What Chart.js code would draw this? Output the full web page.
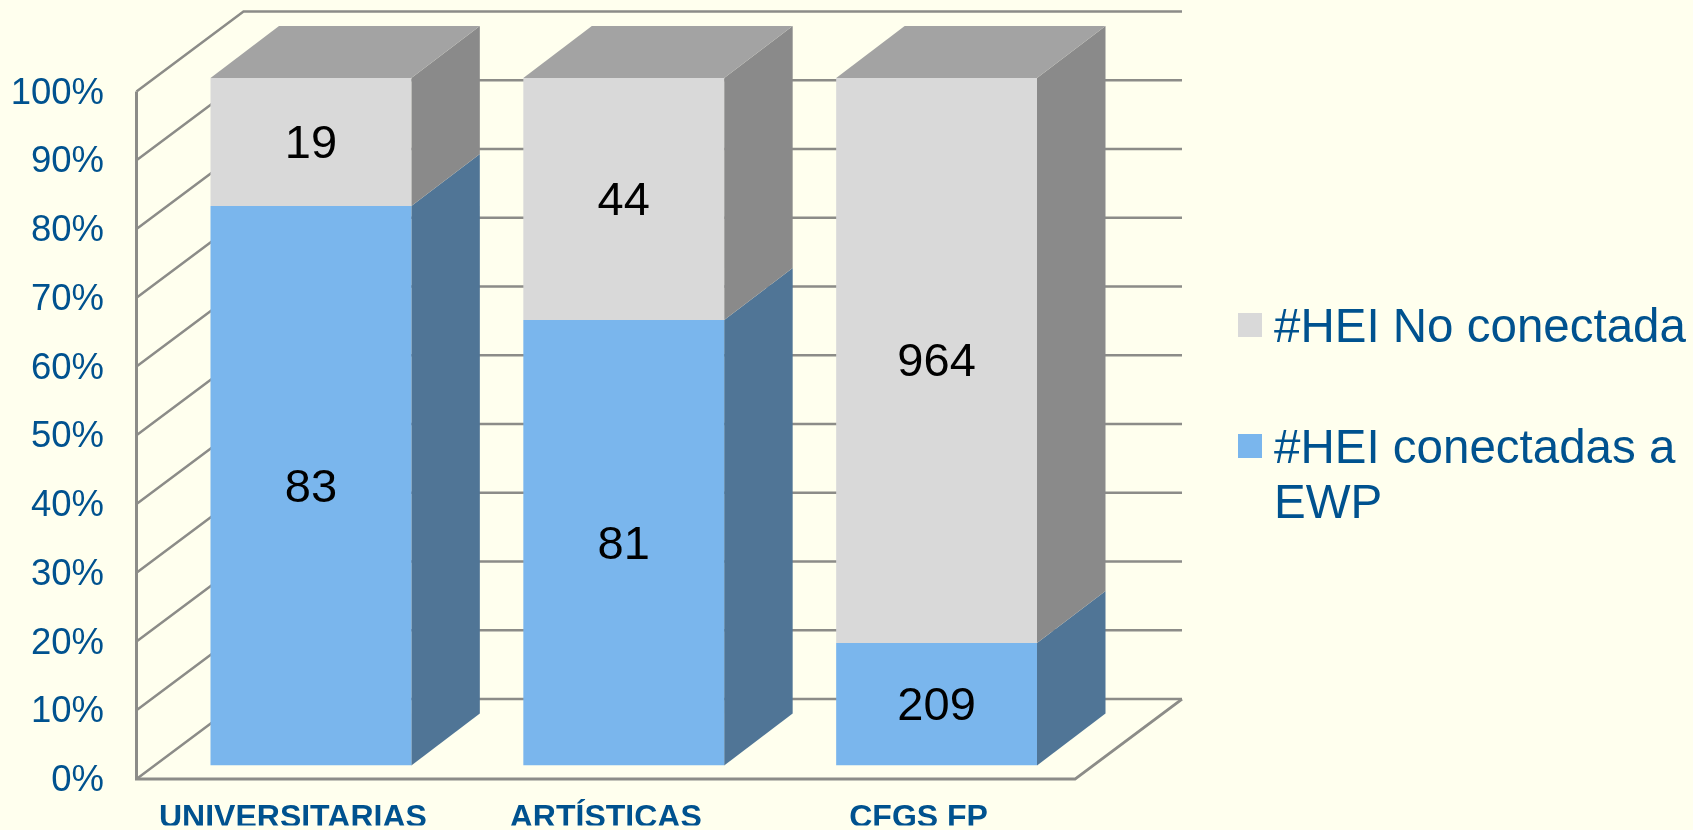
<!DOCTYPE html>
<html>
<head>
<meta charset="utf-8">
<style>
  html, body { margin: 0; padding: 0; background: #FFFFEE; }
  canvas { display: block; }
</style>
<script src="https://cdn.jsdelivr.net/npm/chart.js@4"></script>
</head>
<body>
<canvas id="graph" width="1693" height="830"></canvas>
<script>
const categories = ['UNIVERSITARIAS', 'ARTÍSTICAS', 'CFGS FP'];
const conectadas = [83, 81, 209];
const noConectadas = [19, 44, 964];
const seriesNames = ['#HEI conectadas a EWP', '#HEI No conectada'];
const legendLines = [['#HEI No conectada'], ['#HEI conectadas a', 'EWP']];
const yTicks = [0, 10, 20, 30, 40, 50, 60, 70, 80, 90, 100];

const pctConectadas = conectadas.map((v, i) => v / (v + noConectadas[i]) * 100);
const pctNoConectadas = noConectadas.map((v, i) => v / (conectadas[i] + v) * 100);

const FONT = '"Liberation Sans", Arial, sans-serif';
const TEXT_BLUE = '#00528F';
const LINE_GREY = '#8C8C88';
const DEPTH_X = 68.5, DEPTH_Y = 52;      // extrusion of the bars
const WALL_X = 107, WALL_Y = 80;       // depth of floor and wall
const FRONT_DX = -18, FRONT_DY = 13.5; // front of the floor seen from the bar plane

const sideColors = ['#507596', '#8A8A8A'];

function poly(ctx, pts, fill) {
  ctx.beginPath();
  pts.forEach((p, i) => i ? ctx.lineTo(p[0], p[1]) : ctx.moveTo(p[0], p[1]));
  ctx.closePath();
  ctx.fillStyle = fill;
  ctx.fill();
}

const box3d = {
  id: 'box3d',
  beforeDatasetsDraw(chart) {
    const ctx = chart.ctx, y = chart.scales.y, area = chart.chartArea;
    const x0 = area.left + FRONT_DX, x1 = area.right + FRONT_DX;
    const floor = y.getPixelForValue(0) + FRONT_DY;

    ctx.save();
    ctx.strokeStyle = LINE_GREY;
    ctx.lineWidth = 2.5;
    ctx.beginPath();
    yTicks.forEach(t => {
      const py = y.getPixelForValue(t) + FRONT_DY;
      ctx.moveTo(x0, py);
      ctx.lineTo(x0 + WALL_X, py - WALL_Y);
      ctx.lineTo(x1 + WALL_X, py - WALL_Y);
    });
    ctx.stroke();
    ctx.beginPath();
    ctx.moveTo(x0, y.getPixelForValue(100) + FRONT_DY);
    ctx.lineTo(x0, floor);
    ctx.lineTo(x1, floor);
    ctx.lineTo(x1 + WALL_X, floor - WALL_Y);
    ctx.lineWidth = 3;
    ctx.stroke();

    // side and top faces, left to right so that they overlap the lines behind
    const low = chart.getDatasetMeta(0).data, high = chart.getDatasetMeta(1).data;
    low.forEach((bar, i) => {
      [bar, high[i]].forEach((b, k) => {
        const r = b.x + b.width / 2;
        poly(ctx, [[r, b.y], [r + DEPTH_X, b.y - DEPTH_Y], [r + DEPTH_X, b.base - DEPTH_Y], [r, b.base]], sideColors[k]);
      });
      const top = high[i], l = top.x - top.width / 2, r = top.x + top.width / 2;
      poly(ctx, [[l, top.y], [l + DEPTH_X, top.y - DEPTH_Y], [r + DEPTH_X, top.y - DEPTH_Y], [r, top.y]], '#A3A3A3');
    });
    ctx.restore();
  },
  afterDatasetsDraw(chart) {
    const ctx = chart.ctx;
    ctx.save();
    ctx.font = '47px ' + FONT;
    ctx.fillStyle = '#000000';
    ctx.textAlign = 'center';
    ctx.textBaseline = 'middle';
    [conectadas, noConectadas].forEach((vals, k) => {
      chart.getDatasetMeta(k).data.forEach((b, i) => {
        ctx.fillText(vals[i], b.x, (b.y + b.base) / 2 + 3);
      });
    });

    // legend
    ctx.font = '47.5px ' + FONT;
    ctx.textAlign = 'left';
    const rows = [[325, '#D9D9D9'], [446, '#7AB6ED']];
    legendLines.forEach((lines, k) => {
      ctx.fillStyle = rows[k][1];
      ctx.fillRect(1238, rows[k][0] - 12, 24, 24);
      ctx.fillStyle = TEXT_BLUE;
      lines.forEach((s, j) => ctx.fillText(s, 1274, rows[k][0] + j * 55 + 4));
    });
    ctx.restore();
  }
};

const data_graph = {
  labels: categories,
  datasets: [
    { label: seriesNames[0], data: pctConectadas, backgroundColor: '#7AB6ED' },
    { label: seriesNames[1], data: pctNoConectadas, backgroundColor: '#D9D9D9' }
  ]
};

var config_graph = {
  type: 'bar',
  data: data_graph,
  options: {
    responsive: false,
    animation: false,
    devicePixelRatio: 1,
    layout: { padding: { left: 0, top: 78, right: 600, bottom: -7 } },
    datasets: { bar: { barPercentage: 0.642, categoryPercentage: 1 } },
    plugins: { legend: { display: false }, tooltip: { enabled: false } },
    scales: {
      x: {
        stacked: true,
        grid: { display: false },
        border: { display: false },
        afterFit: s => { s.height = 60; },
        ticks: {
          color: TEXT_BLUE,
          font: { family: FONT, size: 32, weight: 'bold' },
          padding: 25,
          labelOffset: -18,
          maxRotation: 0
        }
      },
      y: {
        stacked: true,
        min: 0,
        max: 100,
        grid: { display: false },
        border: { display: false },
        afterFit: s => { s.width = 154.5; },
        afterBuildTicks: s => { s.ticks = yTicks.map(v => ({ value: v })); },
        ticks: {
          color: TEXT_BLUE,
          font: { family: FONT, size: 36.5 },
          padding: 42.5,
          labelOffset: 15.5,
          callback: v => v + '%'
        }
      }
    }
  },
  plugins: [box3d]
};

Chart.defaults.font.family = FONT;
let graph = new Chart(document.getElementById('graph').getContext('2d'), config_graph);
</script>
</body>
</html>
